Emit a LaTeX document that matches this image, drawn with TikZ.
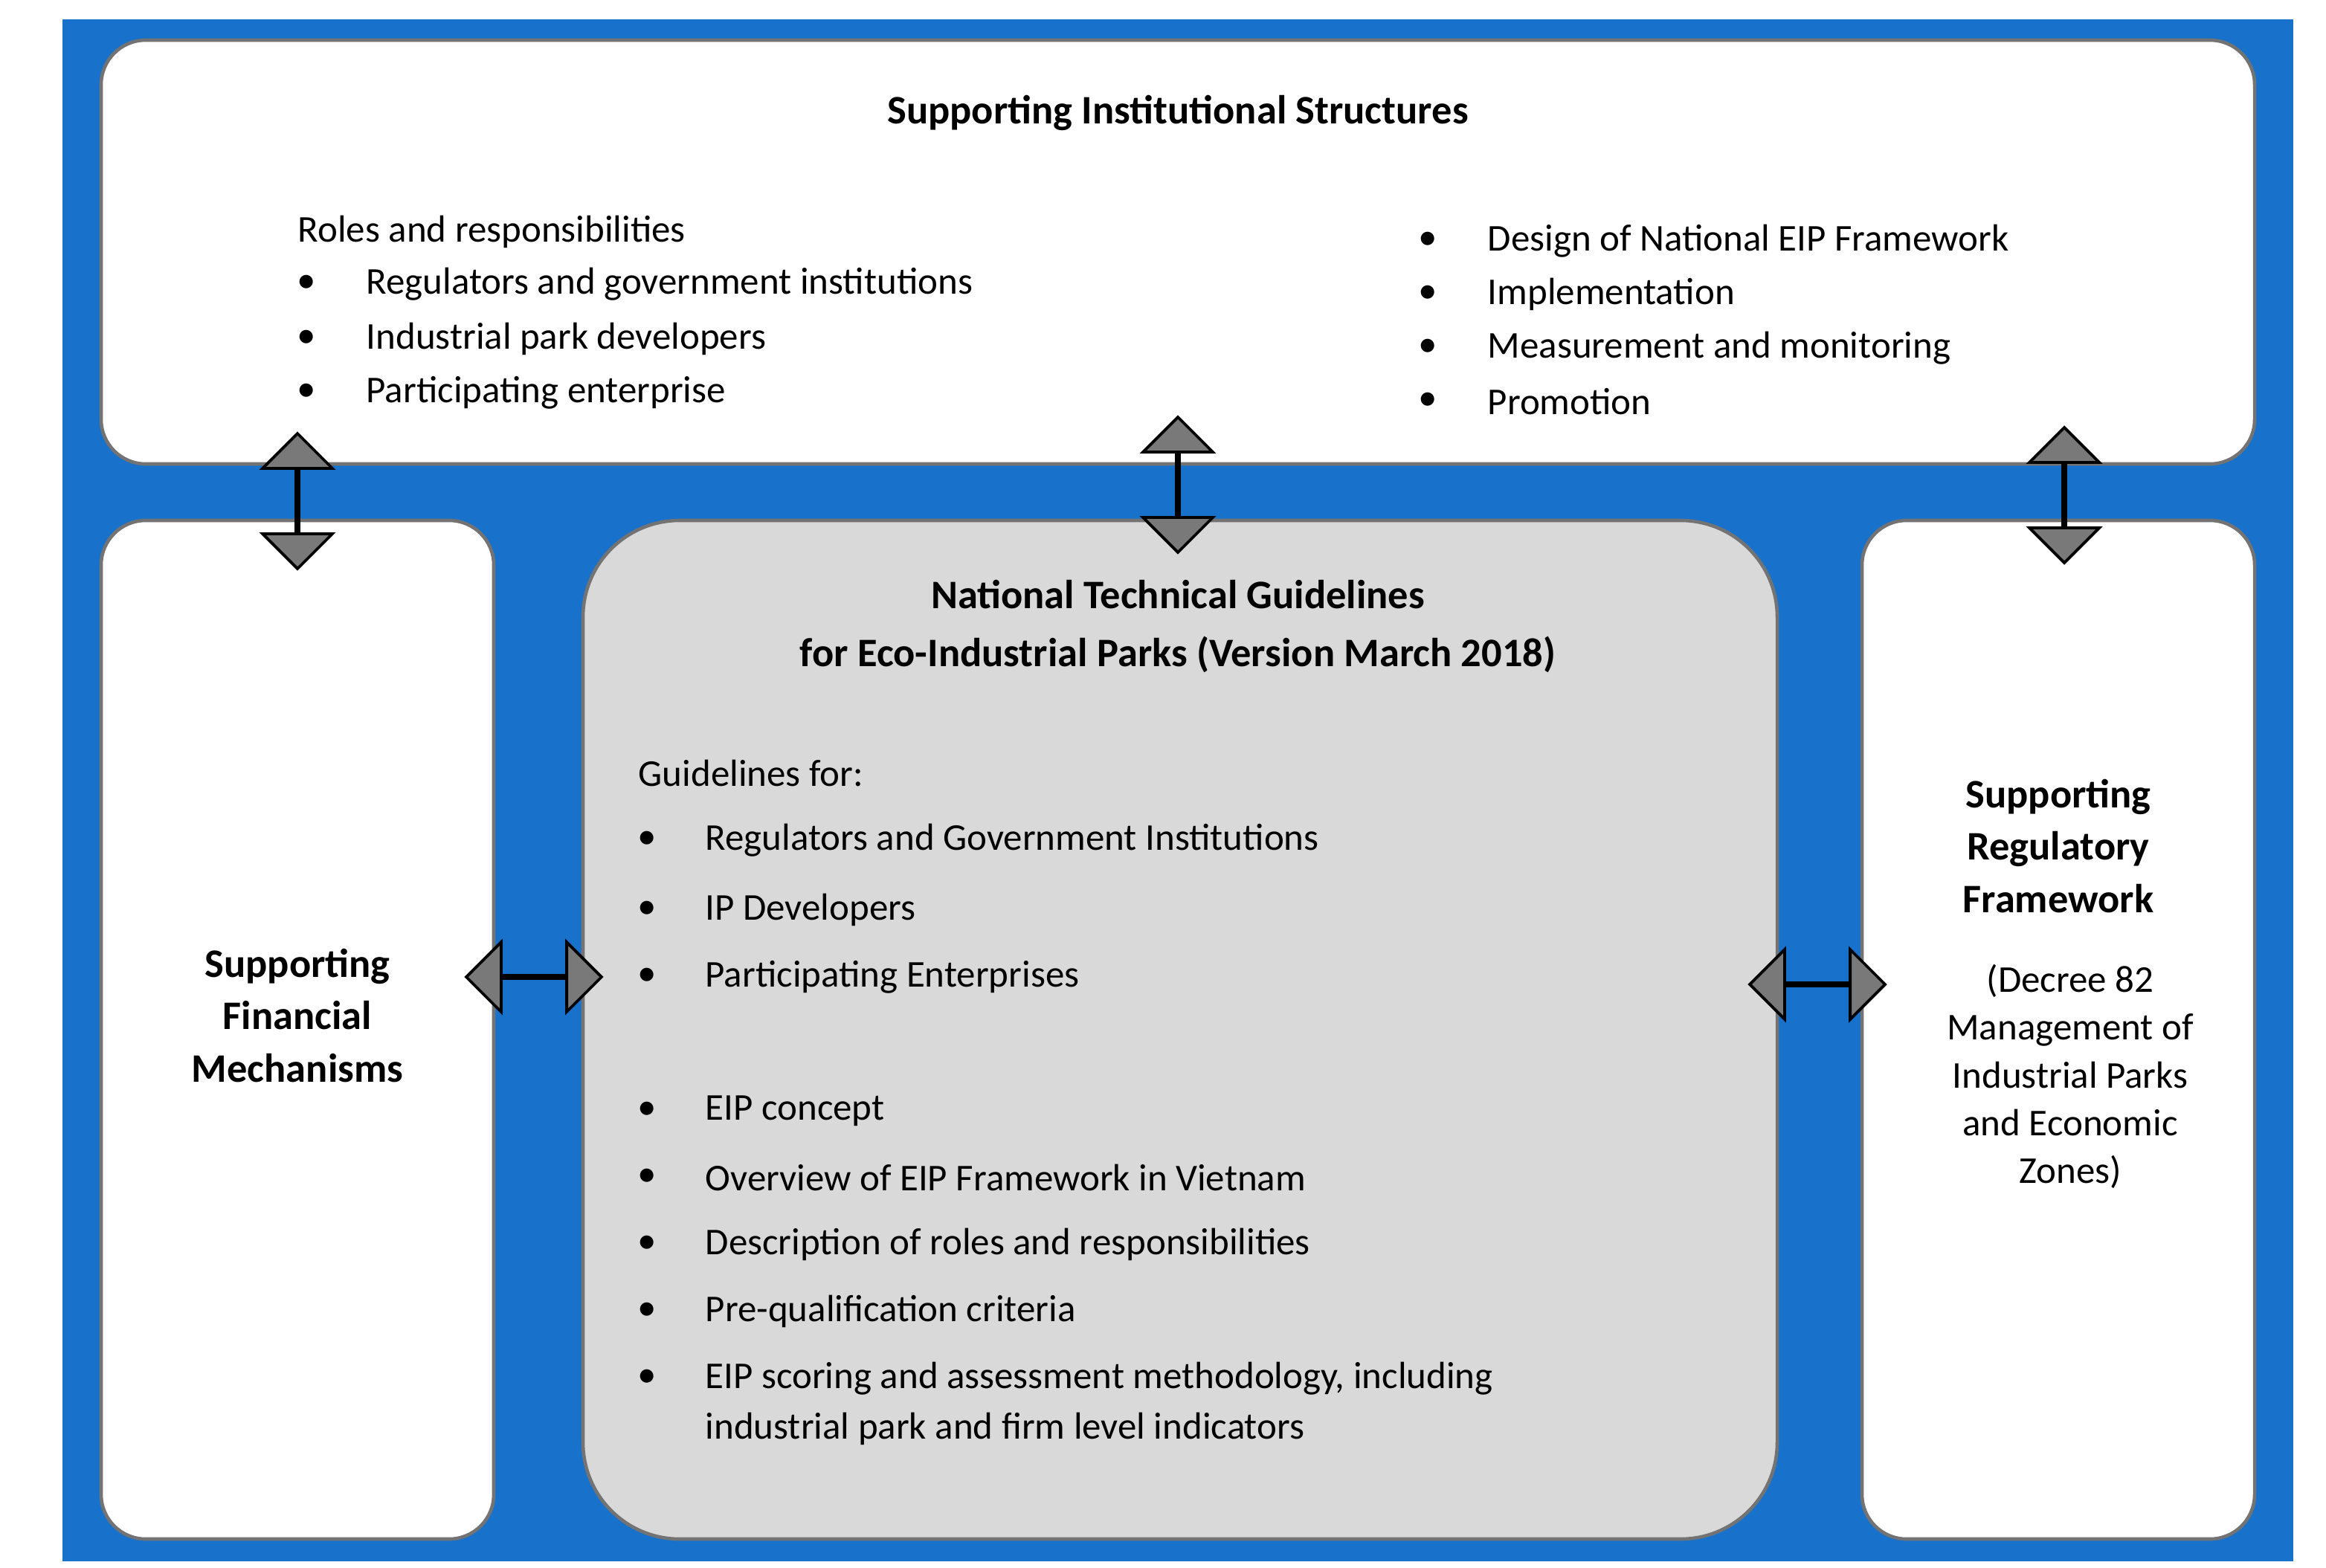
\documentclass[tikz,border=0pt]{standalone}
\usepackage{fontspec}
\setmainfont{Carlito}
\usetikzlibrary{shapes.arrows}
\definecolor{bg}{HTML}{1872CB}
\definecolor{cbox}{HTML}{D9D9D9}
\begin{document}
\begin{tikzpicture}[x=0.02cm,y=-0.02cm,
 box/.style={draw=gray!90!black,line width=1.3pt,fill=white,rounded corners=0.6cm},
 dar/.style={double arrow,draw=black,line width=1.1pt,fill=gray!95!black,minimum height=1.82cm,minimum width=0.7cm,double arrow head extend=0.45cm,double arrow tip angle=90,inner sep=0pt},
 t/.style={font=\fontsize{14.5}{17}\selectfont,anchor=west,inner sep=0pt},
 b/.style={font=\fontsize{14.5}{17}\selectfont,inner sep=0pt},
 h/.style={font=\fontsize{15.5}{18}\selectfont\bfseries,inner sep=0pt}]
\useasboundingbox (0,0) rectangle (1564,1054);
\fill[bg] (42,13) rectangle (1542,1050);
\draw[box] (68,27) rectangle (1516,312);
\draw[box] (68,350) rectangle (332,1035);
\draw[box,fill=cbox,rounded corners=1.3cm] (392,350) rectangle (1195,1035);
\draw[box] (1252,350) rectangle (1516,1035);
\node[h] (t1) at (792,76) {Supporting Institutional Structures};
\node[t] (r0) at (200,156) {Roles and responsibilities};
\foreach \y/\s [count=\i] in {191/Regulators and government institutions,228/Industrial park developers,264/Participating enterprise}{
 \node[b] (lb\i) at (206,\y) {•}; \node[t] (l\i) at (246,\y) {\s};}
\foreach \y/\s [count=\i] in {162/Design of National EIP Framework,198/Implementation,234/Measurement and monitoring,270/Promotion}{
 \node[b] (rb\i) at (960,\y) {•}; \node[t] (r\i) at (1000,\y) {\s};}
\node[h] (c1) at (792,400) {National Technical Guidelines};
\node[h] (c2) at (792,440) {for Eco-Industrial Parks (Version March 2018)};
\node[t] (g0) at (429,520) {Guidelines for:};
\foreach \y/\s [count=\i] in {565/Regulators and Government Institutions,612/IP Developers,657/Participating Enterprises,747/EIP concept,792/Overview of EIP Framework in Vietnam,837/Description of roles and responsibilities,882/Pre-qualification criteria,927/{EIP scoring and assessment methodology, including}}{
 \node[b] (gb\i) at (435,\y) {•}; \node[t] (g\i) at (474,\y) {\s};}
\node[t] (g9) at (474,961) {industrial park and firm level indicators};
\node[h,align=center,font=\fontsize{15.5}{20}\selectfont\bfseries] (lf) at (200,683) {Supporting\\Financial\\Mechanisms};
\node[h,align=center,font=\fontsize{15.5}{20}\selectfont\bfseries] (rf) at (1384,569) {Supporting\\Regulatory\\Framework};
\node[b,align=center,font=\fontsize{14.5}{18.3}\selectfont] (rd) at (1392,724) {(Decree 82\\Management of\\Industrial Parks\\and Economic\\Zones)};
\node[dar,rotate=90] (a1) at (200,337) {};
\node[dar,rotate=90] (a2) at (792,326) {};
\node[dar,rotate=90] (a3) at (1388,333) {};
\node[dar] (a4) at (359,657) {};
\node[dar] (a5) at (1222,662) {};
\end{tikzpicture}
\end{document}
